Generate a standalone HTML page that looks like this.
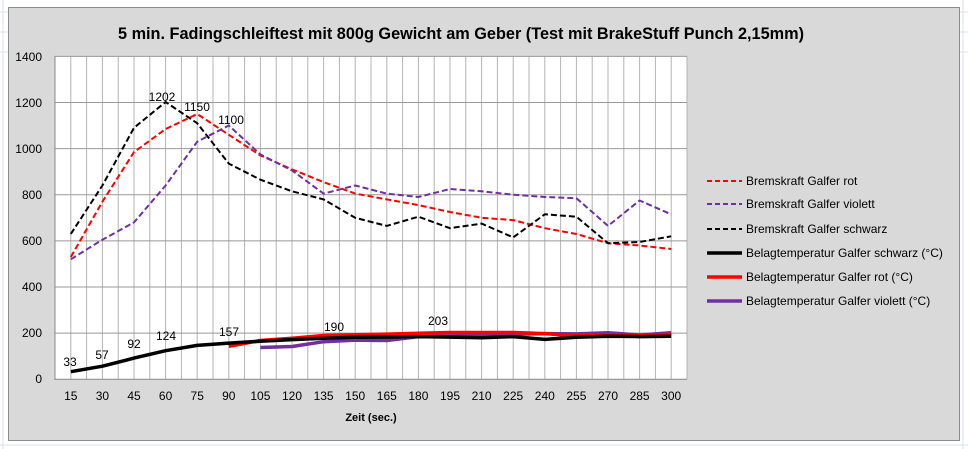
<!DOCTYPE html>
<html><head><meta charset="utf-8"><style>
html,body{margin:0;padding:0;background:#fff;}
svg{display:block;font-family:"Liberation Sans",sans-serif;}
</style></head><body>
<svg id="s" width="968" height="449" xmlns="http://www.w3.org/2000/svg">
<g stroke="#dbe1ec" stroke-width="1">
<line x1="0" y1="12" x2="968" y2="12"/><line x1="0" y1="32" x2="968" y2="32"/><line x1="0" y1="52" x2="968" y2="52"/>
<line x1="0" y1="445" x2="968" y2="445"/>
<line x1="3" y1="0" x2="3" y2="449"/><line x1="963" y1="0" x2="963" y2="449"/>
</g>
<rect x="8.5" y="7.5" width="951" height="433" fill="#d9d9d9" stroke="#8c8c8c"/>
<text x="461" y="39" text-anchor="middle" font-size="17" font-weight="bold" textLength="686" lengthAdjust="spacingAndGlyphs">5 min. Fadingschleiftest mit 800g Gewicht am Geber (Test mit BrakeStuff Punch 2,15mm)</text>
<rect x="55" y="56.3" width="632" height="323" fill="#fff"/>
<g id="grid" stroke="#b4b4b4" stroke-width="1"></g>
<line x1="55" y1="379.3" x2="687" y2="379.3" stroke="#888"/>
<line x1="55" y1="56" x2="55" y2="380" stroke="#888"/>
<g font-size="12" text-anchor="end">
<text x="42" y="383">0</text><text x="42" y="337">200</text><text x="42" y="291">400</text><text x="42" y="245">600</text>
<text x="42" y="199">800</text><text x="42" y="153">1000</text><text x="42" y="107">1200</text><text x="42" y="61">1400</text>
</g>
<g font-size="12" text-anchor="middle">
<text x="70.8" y="400">15</text><text x="102.4" y="400">30</text><text x="134" y="400">45</text><text x="165.6" y="400">60</text>
<text x="197.2" y="400">75</text><text x="228.8" y="400">90</text><text x="260.4" y="400">105</text><text x="292" y="400">120</text>
<text x="323.6" y="400">135</text><text x="355.2" y="400">150</text><text x="386.8" y="400">165</text><text x="418.4" y="400">180</text>
<text x="450" y="400">195</text><text x="481.6" y="400">210</text><text x="513.2" y="400">225</text><text x="544.8" y="400">240</text>
<text x="576.4" y="400">255</text><text x="608" y="400">270</text><text x="639.6" y="400">285</text><text x="671.2" y="400">300</text>
<text x="371" y="421" font-size="11" font-weight="bold">Zeit (sec.)</text>
</g>
<g id="series" fill="none"></g>
<g font-size="12" text-anchor="middle">
<text x="70" y="366">33</text><text x="102" y="359">57</text><text x="134" y="348">92</text><text x="166" y="340">124</text>
<text x="229" y="336">157</text><text x="334" y="331">190</text><text x="438" y="325">203</text>
<text x="162" y="101">1202</text><text x="197" y="111">1150</text><text x="231" y="124">1100</text>
</g>
<g stroke-width="2" fill="none">
<line x1="707" y1="181" x2="742" y2="181" stroke="#ff0000" stroke-dasharray="5,3"/>
<line x1="707" y1="204" x2="742" y2="204" stroke="#7030a0" stroke-dasharray="5,3"/>
<line x1="707" y1="229" x2="742" y2="229" stroke="#000" stroke-dasharray="5,3"/>
<line x1="707" y1="253" x2="742" y2="253" stroke="#000" stroke-width="3.5"/>
<line x1="707" y1="277" x2="742" y2="277" stroke="#ff0000" stroke-width="3.5"/>
<line x1="707" y1="301" x2="742" y2="301" stroke="#7030a0" stroke-width="3.5"/>
</g>
<g font-size="12">
<text x="746" y="185">Bremskraft Galfer rot</text>
<text x="746" y="208">Bremskraft Galfer violett</text>
<text x="746" y="233">Bremskraft Galfer schwarz</text>
<text x="746" y="257">Belagtemperatur Galfer schwarz (°C)</text>
<text x="746" y="281">Belagtemperatur Galfer rot (°C)</text>
<text x="746" y="305">Belagtemperatur Galfer violett (°C)</text>
</g>
</svg>
<script>
var NS="http://www.w3.org/2000/svg";
function X(i){return 70.8+31.6*i;}
function Y(v){return 379.3-v*0.2307;}
var g=document.getElementById("grid");
for(var k=0;k<=40;k++){var x=55+15.8*k;var l=document.createElementNS(NS,"line");l.setAttribute("x1",x);l.setAttribute("x2",x);l.setAttribute("y1",56.3);l.setAttribute("y2",379.3);g.appendChild(l);}
for(var v=200;v<=1400;v+=200){var l=document.createElementNS(NS,"line");l.setAttribute("x1",55);l.setAttribute("x2",687);l.setAttribute("y1",Y(v));l.setAttribute("y2",Y(v));l.setAttribute("stroke","#999");g.appendChild(l);}
var S=document.getElementById("series");
function add(start,vals,color,w,dash){var p=[];for(var i=0;i<vals.length;i++)p.push(X(start+i).toFixed(1)+","+Y(vals[i]).toFixed(1));
var pl=document.createElementNS(NS,"polyline");pl.setAttribute("points",p.join(" "));pl.setAttribute("stroke",color);pl.setAttribute("stroke-width",w);pl.setAttribute("stroke-linejoin","round");if(dash)pl.setAttribute("stroke-dasharray",dash);S.appendChild(pl);}
add(0,[530,770,985,1085,1150,1060,970,910,855,805,780,755,725,700,690,655,630,590,580,565],"#ff0000",2,"6,3");
add(0,[520,605,680,840,1030,1100,975,905,805,840,805,790,825,815,800,790,785,665,775,715],"#7030a0",2,"6,3");
add(0,[630,840,1090,1202,1110,935,865,815,780,700,665,705,655,675,615,715,705,590,595,620],"#000",2,"6,3");
add(6,[138,142,163,170,168,185,188,190,195,198,197,202,192,202],"#7030a0",3.5);
add(5,[143,168,178,190,193,196,200,203,203,203,198,188,192,190,195],"#ff0000",3.5);
add(0,[33,57,92,124,147,157,165,172,178,182,183,185,183,180,185,173,182,187,185,187],"#000",3.5);
</script>
</body></html>
